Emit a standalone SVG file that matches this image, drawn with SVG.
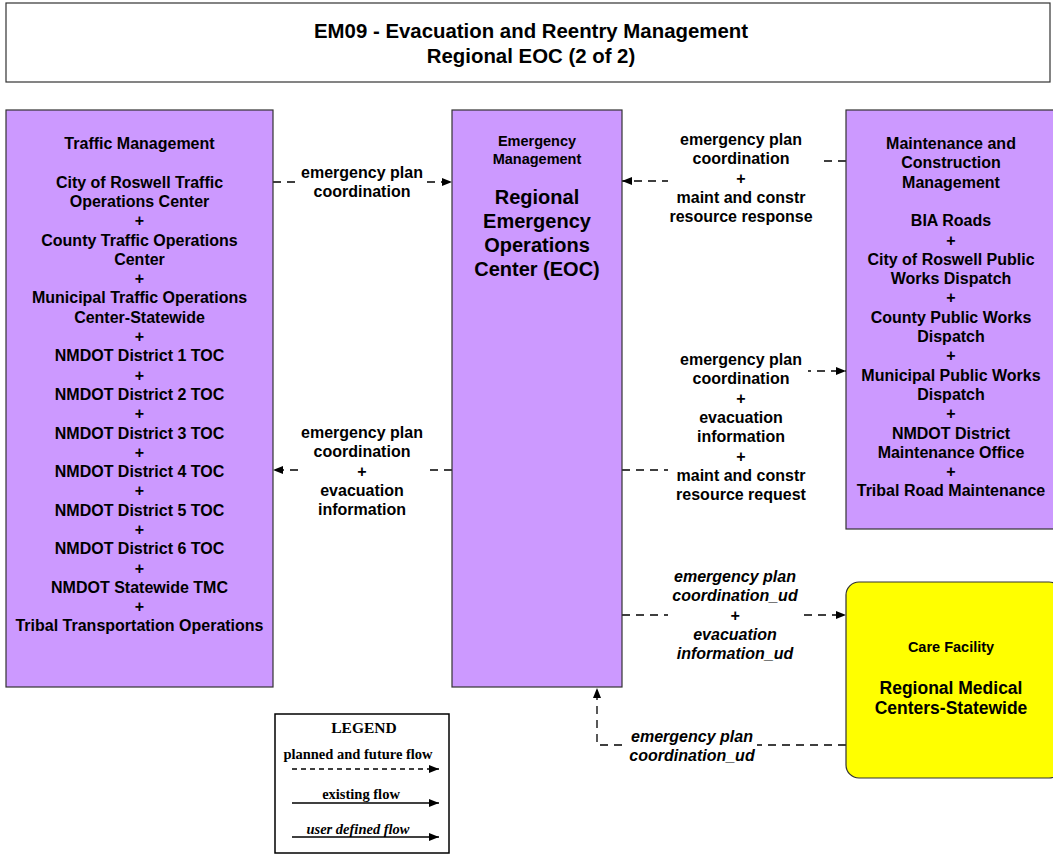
<svg xmlns="http://www.w3.org/2000/svg" width="1053" height="854" viewBox="0 0 1053 854">
<defs>
<marker id="arr" viewBox="0 0 10 8" refX="10" refY="4" markerWidth="10" markerHeight="8" markerUnits="userSpaceOnUse" orient="auto">
<path d="M0,0 L10,4 L0,8 Z" fill="#000"/>
</marker>
</defs>
<style>
.box{fill:#CC99FF;stroke:#333;stroke-width:1.2}
.care{fill:#FFFF00;stroke:#333;stroke-width:1.2}
.t{font-family:"Liberation Sans",Arial,sans-serif;font-weight:bold;font-size:16px;text-anchor:middle;fill:#000}
.s{font-size:14.5px}
.big{font-size:20px}
.med{font-size:17.5px}
.it{font-style:italic}
.c{fill:none;stroke:#000;stroke-width:1.3;stroke-dasharray:8,6}
.lg{font-family:"Liberation Serif","Times New Roman",serif;font-weight:bold;text-anchor:middle;font-size:14.5px}
.bg{fill:#fff}
</style>
<rect width="1053" height="854" fill="#fff"/>
<g id="title">
<rect x="6" y="3" width="1044" height="79" fill="#fff" stroke="#333" stroke-width="1.2"/>
<text class="t" x="531" y="38" style="font-size:20.4px">EM09 - Evacuation and Reentry Management</text>
<text class="t" x="531" y="63" style="font-size:20.4px">Regional EOC (2 of 2)</text>
</g>
<g id="connectors">
<path class="c" d="M273,182 H452" marker-end="url(#arr)"/>
<rect class="bg" x="300" y="162" width="124" height="38"/>
<text class="t" x="362" y="178">emergency plan<tspan x="362" dy="19">coordination</tspan></text>

<path class="c" d="M846,161 H740 V181 H622" marker-end="url(#arr)"/>
<rect class="bg" x="668" y="128" width="150" height="98"/>
<text class="t" x="741" y="145">emergency plan<tspan x="741" dy="19.3">coordination</tspan><tspan x="741" dy="19.3">+</tspan><tspan x="741" dy="19.3">maint and constr</tspan><tspan x="741" dy="19.3">resource response</tspan></text>

<path class="c" d="M622,470 H740 V371 H846" marker-end="url(#arr)"/>
<rect class="bg" x="668" y="348" width="140" height="156"/>
<text class="t" x="741" y="365">emergency plan<tspan x="741" dy="19.3">coordination</tspan><tspan x="741" dy="19.3">+</tspan><tspan x="741" dy="19.3">evacuation</tspan><tspan x="741" dy="19.3">information</tspan><tspan x="741" dy="19.3">+</tspan><tspan x="741" dy="19.3">maint and constr</tspan><tspan x="741" dy="19.3">resource request</tspan></text>

<path class="c" d="M452,470 H273" marker-end="url(#arr)"/>
<rect class="bg" x="300" y="421" width="125" height="98"/>
<text class="t" x="362" y="438">emergency plan<tspan x="362" dy="19.3">coordination</tspan><tspan x="362" dy="19.3">+</tspan><tspan x="362" dy="19.3">evacuation</tspan><tspan x="362" dy="19.3">information</tspan></text>

<path class="c" d="M622,615 H846" marker-end="url(#arr)"/>
<rect class="bg" x="668" y="565" width="132" height="98"/>
<text class="t it" x="735" y="582">emergency plan<tspan x="735" dy="19.3">coordination_ud</tspan><tspan x="735" dy="19.3">+</tspan><tspan x="735" dy="19.3">evacuation</tspan><tspan x="735" dy="19.3">information_ud</tspan></text>

<path class="c" d="M846,745 H597 V688" marker-end="url(#arr)"/>
<rect class="bg" x="628" y="726" width="129" height="38"/>
<text class="t it" x="692" y="742">emergency plan<tspan x="692" dy="19.3">coordination_ud</tspan></text>
</g>
<g id="traffic-management">
<rect class="box" x="6" y="110" width="267" height="577"/>
<text class="t" x="139.5" y="149">Traffic Management<tspan x="139.5" dy="38.6">City of Roswell Traffic</tspan><tspan x="139.5" dy="19.3">Operations Center</tspan><tspan x="139.5" dy="19.3">+</tspan><tspan x="139.5" dy="19.3">County Traffic Operations</tspan><tspan x="139.5" dy="19.3">Center</tspan><tspan x="139.5" dy="19.3">+</tspan><tspan x="139.5" dy="19.3">Municipal Traffic Operations</tspan><tspan x="139.5" dy="19.3">Center-Statewide</tspan><tspan x="139.5" dy="19.3">+</tspan><tspan x="139.5" dy="19.3">NMDOT District 1 TOC</tspan><tspan x="139.5" dy="19.3">+</tspan><tspan x="139.5" dy="19.3">NMDOT District 2 TOC</tspan><tspan x="139.5" dy="19.3">+</tspan><tspan x="139.5" dy="19.3">NMDOT District 3 TOC</tspan><tspan x="139.5" dy="19.3">+</tspan><tspan x="139.5" dy="19.3">NMDOT District 4 TOC</tspan><tspan x="139.5" dy="19.3">+</tspan><tspan x="139.5" dy="19.3">NMDOT District 5 TOC</tspan><tspan x="139.5" dy="19.3">+</tspan><tspan x="139.5" dy="19.3">NMDOT District 6 TOC</tspan><tspan x="139.5" dy="19.3">+</tspan><tspan x="139.5" dy="19.3">NMDOT Statewide TMC</tspan><tspan x="139.5" dy="19.3">+</tspan><tspan x="139.5" dy="19.3">Tribal Transportation Operations</tspan></text>
</g>
<g id="eoc">
<rect class="box" x="452" y="110" width="170" height="577"/>
<text class="t s" x="537" y="146">Emergency<tspan x="537" dy="17.5">Management</tspan></text>
<text class="t big" x="537" y="204">Regional<tspan x="537" dy="24">Emergency</tspan><tspan x="537" dy="24">Operations</tspan><tspan x="537" dy="24">Center (EOC)</tspan></text>
</g>
<g id="maintenance">
<rect class="box" x="846" y="110" width="210" height="419"/>
<text class="t" x="951" y="149">Maintenance and<tspan x="951" dy="19.3">Construction</tspan><tspan x="951" dy="19.3">Management</tspan><tspan x="951" dy="38.6">BIA Roads</tspan><tspan x="951" dy="19.3">+</tspan><tspan x="951" dy="19.3">City of Roswell Public</tspan><tspan x="951" dy="19.3">Works Dispatch</tspan><tspan x="951" dy="19.3">+</tspan><tspan x="951" dy="19.3">County Public Works</tspan><tspan x="951" dy="19.3">Dispatch</tspan><tspan x="951" dy="19.3">+</tspan><tspan x="951" dy="19.3">Municipal Public Works</tspan><tspan x="951" dy="19.3">Dispatch</tspan><tspan x="951" dy="19.3">+</tspan><tspan x="951" dy="19.3">NMDOT District</tspan><tspan x="951" dy="19.3">Maintenance Office</tspan><tspan x="951" dy="19.3">+</tspan><tspan x="951" dy="19.3">Tribal Road Maintenance</tspan></text>
</g>
<g id="care-facility">
<rect class="care" x="846" y="582" width="216" height="196" rx="13" ry="13"/>
<text class="t s" x="951" y="652">Care Facility</text>
<text class="t med" x="951" y="694">Regional Medical<tspan x="951" dy="20">Centers-Statewide</tspan></text>
</g>
<g id="legend">
<rect x="275" y="714" width="174" height="139" fill="#fff" stroke="#000" stroke-width="1.5"/>
<text class="lg" x="364" y="733" style="font-size:15.5px">LEGEND</text>
<text class="lg" x="358" y="759">planned and future flow</text>
<path d="M292,769 H439" stroke="#000" stroke-width="1.3" stroke-dasharray="5,4" marker-end="url(#arr)"/>
<text class="lg" x="361" y="799">existing flow</text>
<path d="M292,803 H439" stroke="#000" stroke-width="1.3" marker-end="url(#arr)"/>
<text class="lg" x="358" y="834" style="font-style:italic">user defined flow</text>
<path d="M292,837 H439" stroke="#000" stroke-width="1.3" marker-end="url(#arr)"/>
</g>
</svg>
